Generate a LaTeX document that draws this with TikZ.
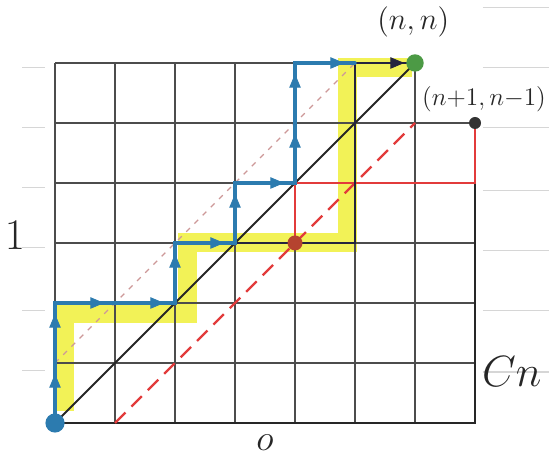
\documentclass[tikz,border=0pt]{standalone}
\usepackage{amsmath}
\usepackage{tikz}
\usetikzlibrary{arrows.meta,calc,decorations.markings}
\definecolor{pathblue}{HTML}{2C7BAF}
\definecolor{hilite}{HTML}{F0F03A}
\definecolor{reflred}{HTML}{E23B3B}
\definecolor{hitred}{HTML}{B5432F}
\definecolor{endgreen}{HTML}{4C9A45}
\definecolor{inkdark}{HTML}{24243E}
\definecolor{paperln}{HTML}{D6D6D6}
\tikzset{
  gridln/.style  = {line width=0.6pt,draw=black!70},
  gridout/.style = {line width=1pt,draw=black!85},
  paper/.style   = {line width=0.5pt,draw=paperln},
  hl/.style      = {line width=9pt,draw=hilite,opacity=0.85},
  diag/.style    = {line width=0.9pt,draw=black!85},
  shift1/.style  = {line width=1.1pt,draw=reflred,dash pattern=on 7pt off 4pt},
  faint/.style   = {line width=0.6pt,draw=red!35!gray!60,dash pattern=on 2.5pt off 3pt},
  walk/.style    = {line width=1.6pt,draw=pathblue,line cap=round},
  reflwalk/.style= {line width=1pt,draw=reflred},
  inkwalk/.style = {line width=1.3pt,draw=inkdark},
  steparr/.style = {postaction={decorate},decoration={markings,
                     mark=at position 0.82 with
                     {\arrow[#1]{Triangle[length=2.3mm,width=1.9mm]}}}},
  dot/.style     = {circle,inner sep=0pt,minimum size=#1},
  lbl/.style     = {inner sep=1pt,text=black!85},
}

\begin{document}
\begin{tikzpicture}
  \useasboundingbox (-0.917,-0.567) rectangle (8.233,7.05);

  % lattice points
  \foreach \i in {0,...,7}
    \foreach \j in {0,...,6}
      \coordinate (p\i\j) at (\i,\j);

  % ruled paper lines
  \foreach \y in {5.93,4.93,3.92,2.92,1.88,0.88}
    \draw[paper] (-0.55,\y) -- (-0.17,\y);
  \foreach \y in {6.93,5.92,4.92,3.88,2.87,1.87,0.85}
    \draw[paper] (7.13,\y) -- (8.3,\y);

  % highlighted path
  \draw[hl] (0.15,0.2) -- (0.15,1.83) -- (2.2,1.83) -- (2.2,3)
        -- (4.87,3) -- (4.87,5.92) -- (5.95,5.92);

  % grid
  \draw[gridln] (p00) grid (p66);
  \draw[gridln] (p60) grid (p75);
  \draw[gridout] (p00) -- (p70) -- (p74);
  \draw[gridln] (p65) -- (p75);

  % lines y=x+1, y=x, y=x-1
  \draw[faint] (p01) -- (p56);
  \draw[diag] (p00) -- (p66);
  \draw[shift1] (p10) -- (p65);

  % reflected tail
  \draw[reflwalk] (p43) -- (p44) -- (p74) -- (p75);

  % bad path
  \draw[inkwalk] (p33) -- (p53) -- (p56) -- (p66);
  \path[steparr=inkdark] (p56) -- (p66);

  % good path
  \draw[walk] (p00) -- (p02) -- (p22) -- (p23) -- (p33) -- (p34)
        -- (p44) -- (p46) -- (p56);
  \foreach \a/\b in {p00/p01,p01/p02,p02/p12,p12/p22,p22/p23,p23/p33,
                     p33/p34,p34/p44,p44/p45,p45/p46,p46/p56}
    \path[steparr=pathblue] (\a) -- (\b);

  % end points
  \node[dot=3.2mm,fill=pathblue] (start) at (p00) {};
  \node[dot=2.9mm,fill=endgreen] (goal) at (p66) {};
  \node[dot=2.5mm,fill=hitred] (hit) at (p43) {};
  \node[dot=2mm,fill=black!80] (mirror) at (p75) {};

  % labels
  \node[lbl,font=\Large] (lblnn) at (5.97,6.68) {$(n,n)$};
  \node[lbl,font=\large] (lblnm) at (7.15,5.4) {$(n{+}1,n{-}1)$};
  \node[lbl,font=\huge] (lblone) at (-0.67,3.13) {$1$};
  \node[lbl,font=\huge,anchor=east] (lblcn) at (8.15,0.85) {$Cn$};
  \node[lbl,font=\LARGE,anchor=south] (lblo) at (3.5,-0.5) {$o$};
\end{tikzpicture}
\end{document}
